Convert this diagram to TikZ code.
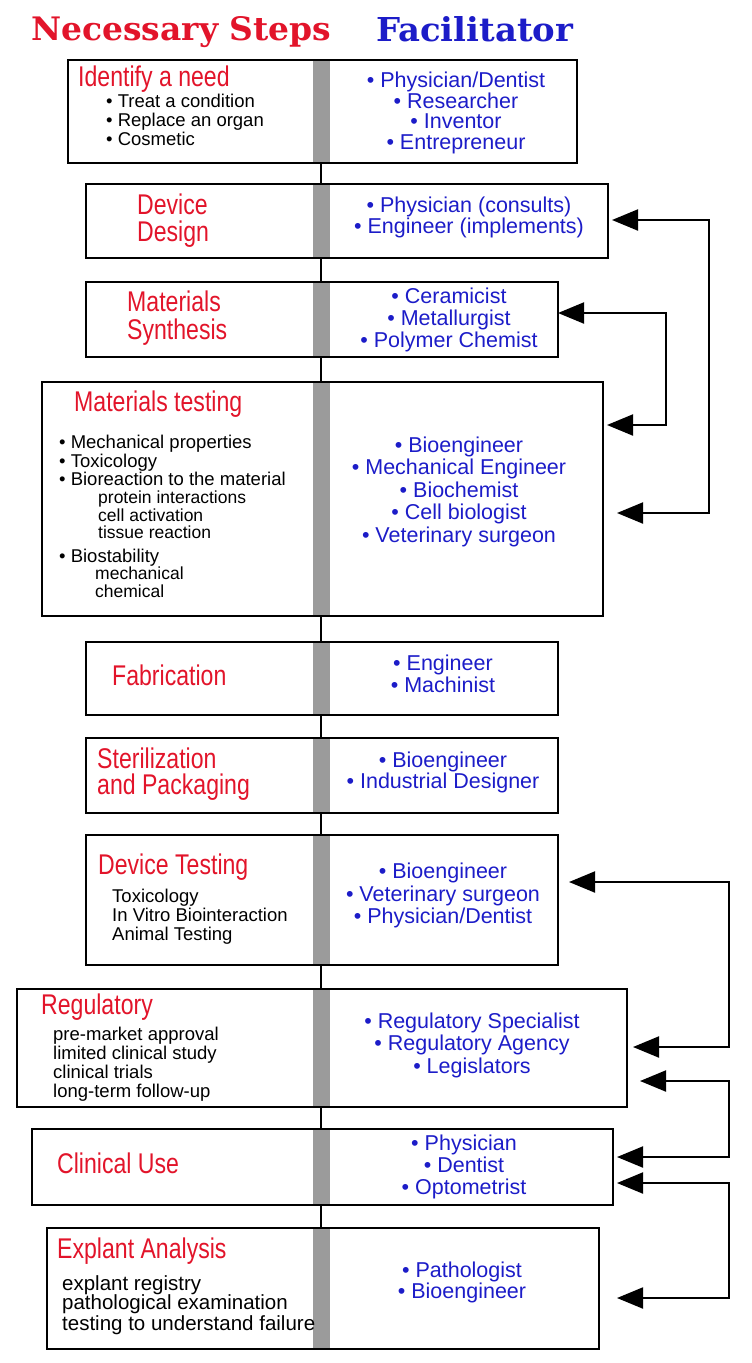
\documentclass[tikz,border=0pt]{standalone}
\usepackage{fontspec}
\setmainfont{Liberation Sans}
\newfontfamily\headfont{DejaVu Serif}
\newfontfamily\condfont{Liberation Sans}[FakeStretch=0.81]
\usetikzlibrary{arrows.meta}
\definecolor{stepred}{RGB}{226,20,42}
\definecolor{facblue}{RGB}{28,28,200}
\definecolor{bargray}{RGB}{155,155,155}
\newcommand{\Lft}[4]{\node[#1,anchor=base west] (#2) at (#3) {#4};}
\newcommand{\Ctr}[3]{\node[fac,anchor=base] (#1) at (#2) {#3};}
\begin{document}
\begin{tikzpicture}[x=1pt,y=-1pt,
  stepbox/.style={draw=black,line width=2pt,anchor=north west,inner sep=0pt},
  grayb/.style={fill=bargray,minimum width=17pt,inner sep=0pt,anchor=north},
  conn/.style={draw=black,line width=2.2pt},
  ttl/.style={text=stepred,inner sep=0pt,font=\condfont\fontsize{28.5}{28.5}\selectfont},
  itm/.style={text=black,inner sep=0pt,font=\fontsize{18.5}{18.5}\selectfont},
  sub/.style={text=black,inner sep=0pt,font=\fontsize{17.5}{17.5}\selectfont},
  exi/.style={text=black,inner sep=0pt,font=\fontsize{20.5}{20.5}\selectfont},
  fac/.style={text=facblue,inner sep=0pt,font=\fontsize{21.5}{21.5}\selectfont},
  fb/.style={line width=2pt,{Triangle[length=26pt,width=21pt]}-{Triangle[length=26pt,width=21pt]}}]
\useasboundingbox (0,0) rectangle (752,1363);
% header
\node[anchor=base west,inner sep=0pt,text=stepred] (hs) at (31,40) {\resizebox{300pt}{24pt}{\headfont\bfseries Necessary Steps}};
\node[anchor=base west,inner sep=0pt,text=facblue] (hf) at (376,41) {\resizebox{197pt}{25pt}{\headfont\bfseries Facilitator}};
% gray bars
\node[grayb,minimum height=103pt] (g1) at (321,59) {};
\node[grayb,minimum height=74pt] (g2) at (321,183) {};
\node[grayb,minimum height=75pt] (g3) at (321,281) {};
\node[grayb,minimum height=234pt] (g4) at (321,381) {};
\node[grayb,minimum height=74pt] (g5) at (321,641) {};
\node[grayb,minimum height=75pt] (g6) at (321,737) {};
\node[grayb,minimum height=130pt] (g7) at (321,834) {};
\node[grayb,minimum height=118pt] (g8) at (321,988) {};
\node[grayb,minimum height=76pt] (g9) at (321,1128) {};
\node[grayb,minimum height=121pt] (g10) at (321,1227) {};
% boxes
\node[stepbox,minimum width=509pt,minimum height=103pt] (b1) at (67,59) {};
\node[stepbox,minimum width=522pt,minimum height=74pt] (b2) at (85,183) {};
\node[stepbox,minimum width=472pt,minimum height=75pt] (b3) at (85,281) {};
\node[stepbox,minimum width=561pt,minimum height=234pt] (b4) at (41,381) {};
\node[stepbox,minimum width=472pt,minimum height=73pt] (b5) at (85,641) {};
\node[stepbox,minimum width=472pt,minimum height=75pt] (b6) at (85,737) {};
\node[stepbox,minimum width=472pt,minimum height=130pt] (b7) at (85,834) {};
\node[stepbox,minimum width=610pt,minimum height=118pt] (b8) at (16,988) {};
\node[stepbox,minimum width=581pt,minimum height=76pt] (b9) at (31,1128) {};
\node[stepbox,minimum width=552pt,minimum height=121pt] (b10) at (46,1227) {};
% connectors between steps
\draw[conn] (g1.south) -- (g2.north);
\draw[conn] (g2.south) -- (g3.north);
\draw[conn] (g3.south) -- (g4.north);
\draw[conn] (g4.south) -- (g5.north);
\draw[conn] (g5.south) -- (g6.north);
\draw[conn] (g6.south) -- (g7.north);
\draw[conn] (g7.south) -- (g8.north);
\draw[conn] (g8.south) -- (g9.north);
\draw[conn] (g9.south) -- (g10.north);
% feedback arrows
\coordinate (t2) at (612,220);  \coordinate (t4b) at (617,513);
\coordinate (t3) at (558,313);  \coordinate (t4a) at (607,425);
\coordinate (t7) at (569,882);  \coordinate (t8a) at (633,1047);
\coordinate (t8b) at (640,1081); \coordinate (t9a) at (617,1157);
\coordinate (t9b) at (617,1183); \coordinate (t10) at (617,1298);
\draw[fb] (t2) -- (709,220) -- (709,513) -- (t4b);
\draw[fb] (t3) -- (666,313) -- (666,425) -- (t4a);
\draw[fb] (t7) -- (729,882) -- (729,1047) -- (t8a);
\draw[fb] (t8b) -- (729,1081) -- (729,1157) -- (t9a);
\draw[fb] (t9b) -- (729,1183) -- (729,1298) -- (t10);
% box 1
\Lft{ttl}{s1}{78,86}{Identify a need}
\Lft{itm}{s1a}{106,107}{• Treat a condition}
\Lft{itm}{s1b}{106,126}{• Replace an organ}
\Lft{itm}{s1c}{106,145}{• Cosmetic}
\Ctr{f1a}{456,87}{• Physician/Dentist}
\Ctr{f1b}{456,108}{• Researcher}
\Ctr{f1c}{456,128.5}{• Inventor}
\Ctr{f1d}{456,149}{• Entrepreneur}
% box 2
\Lft{ttl}{s2a}{137,214}{Device}
\Lft{ttl}{s2b}{137,241}{Design}
\Ctr{f2a}{469,212}{• Physician (consults)}
\Ctr{f2b}{469,233}{• Engineer (implements)}
% box 3
\Lft{ttl}{s3a}{127,311}{Materials}
\Lft{ttl}{s3b}{127,339}{Synthesis}
\Ctr{f3a}{449,303}{• Ceramicist}
\Ctr{f3b}{449,325}{• Metallurgist}
\Ctr{f3c}{449,347}{• Polymer Chemist}
% box 4
\Lft{ttl}{s4}{74,411}{Materials testing}
\Lft{itm}{s4a}{59,448}{• Mechanical properties}
\Lft{itm}{s4b}{59,467}{• Toxicology}
\Lft{itm}{s4c}{59,485}{• Bioreaction to the material}
\Lft{sub}{s4d}{98,503}{protein interactions}
\Lft{sub}{s4e}{98,521}{cell activation}
\Lft{sub}{s4f}{98,538}{tissue reaction}
\Lft{itm}{s4g}{59,562}{• Biostability}
\Lft{sub}{s4h}{95,579}{mechanical}
\Lft{sub}{s4i}{95,597}{chemical}
\Ctr{f4a}{459,452}{• Bioengineer}
\Ctr{f4b}{459,474}{• Mechanical Engineer}
\Ctr{f4c}{459,497}{• Biochemist}
\Ctr{f4d}{459,519}{• Cell biologist}
\Ctr{f4e}{459,542}{• Veterinary surgeon}
% box 5
\Lft{ttl}{s5}{112,685}{Fabrication}
\Ctr{f5a}{443,670}{• Engineer}
\Ctr{f5b}{443,692}{• Machinist}
% box 6
\Lft{ttl}{s6a}{97,768}{Sterilization}
\Lft{ttl}{s6b}{97,794}{and Packaging}
\Ctr{f6a}{443,767}{• Bioengineer}
\Ctr{f6b}{443,788}{• Industrial Designer}
% box 7
\Lft{ttl}{s7}{98,874}{Device Testing}
\Lft{itm}{s7a}{112,902}{Toxicology}
\Lft{itm}{s7b}{112,921}{In Vitro Biointeraction}
\Lft{itm}{s7c}{112,940}{Animal Testing}
\Ctr{f7a}{443,878}{• Bioengineer}
\Ctr{f7b}{443,901}{• Veterinary surgeon}
\Ctr{f7c}{443,923}{• Physician/Dentist}
% box 8
\Lft{ttl}{s8}{41,1014}{Regulatory}
\Lft{itm}{s8a}{53,1040}{pre-market approval}
\Lft{itm}{s8b}{53,1059}{limited clinical study}
\Lft{itm}{s8c}{53,1078}{clinical trials}
\Lft{itm}{s8d}{53,1097}{long-term follow-up}
\Ctr{f8a}{472,1028}{• Regulatory Specialist}
\Ctr{f8b}{472,1050}{• Regulatory Agency}
\Ctr{f8c}{472,1073}{• Legislators}
% box 9
\Lft{ttl}{s9}{57,1173}{Clinical Use}
\Ctr{f9a}{464,1150}{• Physician}
\Ctr{f9b}{464,1172}{• Dentist}
\Ctr{f9c}{464,1194}{• Optometrist}
% box 10
\Lft{ttl}{s10}{57,1258}{Explant Analysis}
\Lft{exi}{s10a}{62,1290}{explant registry}
\Lft{exi}{s10b}{62,1309}{pathological examination}
\Lft{exi}{s10c}{62,1330}{testing to understand failure}
\Ctr{f10a}{462,1277}{• Pathologist}
\Ctr{f10b}{462,1298}{• Bioengineer}
\end{tikzpicture}
\end{document}
